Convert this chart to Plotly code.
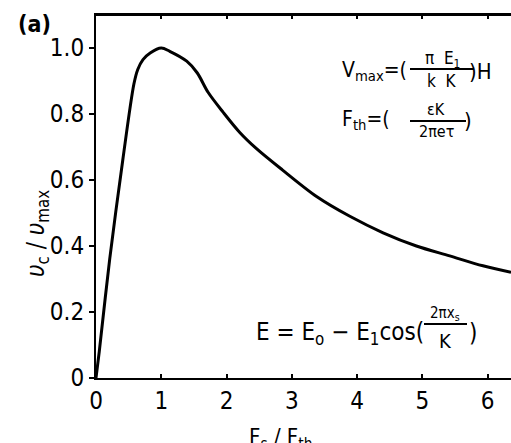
import plotly.graph_objects as go

# Data
fs_over_fth = [0.0, 0.05, 0.21, 0.41, 0.58, 0.64, 0.72, 0.83, 1.0, 1.13, 1.39, 1.55,
               1.72, 1.95, 2.20, 2.46, 2.86, 3.38, 3.89, 4.40, 4.91, 5.42, 5.93, 6.36]
vc_over_vmax = [0.0, 0.08, 0.36, 0.66, 0.89, 0.935, 0.965, 0.985, 1.0, 0.99, 0.96, 0.925,
                0.865, 0.805, 0.745, 0.695, 0.63, 0.55, 0.49, 0.44, 0.40, 0.37, 0.34, 0.32]
x_ticks = [0, 1, 2, 3, 4, 5, 6]
y_ticks = [0, 0.2, 0.4, 0.6, 0.8, 1.0]
y_tick_labels = ["0", "0.2", "0.4", "0.6", "0.8", "1.0"]

W, H = 511, 443
L, T, B = 96, 15, 65
R = 0
PW = W - L - R
PH = H - T - B
FONT = "Liberation Sans Narrow, DejaVu Sans Condensed, Arial Narrow, sans-serif"


def px(x):
    return (x - L) / PW


def py(y):
    return (H - B - y) / PH


fig = go.Figure()
fig.add_trace(go.Scatter(x=fs_over_fth, y=vc_over_vmax, mode="lines",
                         line=dict(color="black", width=3, shape="spline", smoothing=0.9),
                         showlegend=False))

ann = []


def add(text, x, y, size=22, xanchor="center", yanchor="middle", angle=0):
    ann.append(dict(text=text, x=px(x), y=py(y), xref="paper", yref="paper",
                    showarrow=False, xanchor=xanchor, yanchor=yanchor, textangle=angle,
                    font=dict(family=FONT, size=size, color="black")))


add("<b>(a)</b>", 16, 24, size=23, xanchor="left")
add("<i>υ</i><sub>c</sub> / <i>υ</i><sub>max</sub>", 37, 234, size=24, angle=-90)
add("F<sub>s</sub> / F<sub>th</sub>", 280, 422, size=22, yanchor="top")

# Vmax formula
add("V<sub>max</sub>=(", 340, 71, size=21, xanchor="left")
add("π  E<sub>1</sub>", 442, 59, size=17)
add("k  K", 442, 81, size=17)
add(")H", 467, 71, size=22, xanchor="left")
# Fth formula
add("F<sub>th</sub>=(", 340, 120, size=21, xanchor="left")
add("εK", 436, 110, size=16)
add("2πeτ", 436, 131, size=16)
add(")", 462, 120, size=22, xanchor="left")
# E formula
add("E = E<sub>o</sub> − E<sub>1</sub>cos(", 254, 333, size=24, xanchor="left")
add("2πx<sub>s</sub>", 445, 313, size=15)
add("K", 445, 341, size=20)
add(")", 467, 333, size=24, xanchor="left")

shapes = [
    dict(type="line", xref="paper", yref="paper", x0=px(410), x1=px(474),
         y0=py(69), y1=py(69), line=dict(color="black", width=2)),
    dict(type="line", xref="paper", yref="paper", x0=px(410), x1=px(466),
         y0=py(121), y1=py(121), line=dict(color="black", width=2)),
    dict(type="line", xref="paper", yref="paper", x0=px(424), x1=px(467),
         y0=py(324), y1=py(324), line=dict(color="black", width=2)),
    dict(type="line", xref="paper", yref="paper", x0=0, x1=1, y0=1, y1=1,
         line=dict(color="black", width=2)),
]

fig.update_layout(
    width=W, height=H,
    margin=dict(l=L, r=R, t=T, b=B),
    paper_bgcolor="white", plot_bgcolor="white",
    annotations=ann, shapes=shapes,
    xaxis=dict(range=[0, 6.36], tickvals=x_ticks, ticks="inside", ticklen=4,
               tickwidth=1.5, tickcolor="black", showline=True, linecolor="black",
               linewidth=2, mirror="ticks", showgrid=False, zeroline=False,
               tickfont=dict(family=FONT, size=24, color="black")),
    yaxis=dict(range=[0, 1.1], tickvals=y_ticks, ticktext=y_tick_labels,
               ticks="outside", ticklen=5, tickwidth=1.5, tickcolor="black",
               showline=True, linecolor="black", linewidth=2, mirror=False,
               showgrid=False, zeroline=False,
               tickfont=dict(family=FONT, size=24, color="black")),
)

fig.write_html("out.html")
